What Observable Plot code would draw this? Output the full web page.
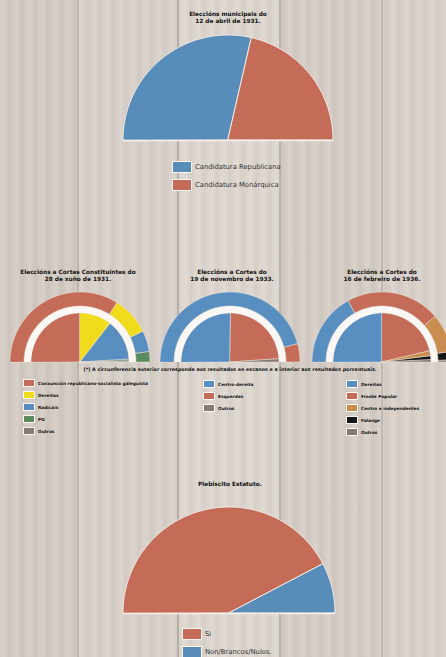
<!DOCTYPE html>
<html><head><meta charset="utf-8">
<script src="https://cdn.jsdelivr.net/npm/d3@7"></script>
<script src="https://cdn.jsdelivr.net/npm/@observablehq/plot@0.6"></script>
<style>
html,body{margin:0;padding:0;width:446px;height:657px;overflow:hidden}
#page{position:relative;width:446px;height:657px;overflow:hidden;font-family:"DejaVu Sans",sans-serif;
background:
 repeating-linear-gradient(90deg, rgba(255,255,255,0) 0px, rgba(255,255,255,0.10) 4px, rgba(0,0,0,0.035) 9px, rgba(255,255,255,0) 13px),
 linear-gradient(90deg,#d3cbc3 0 77px,#bdb4ac 77px 79px,#d8d0c9 79px 177px,#bdb4ac 177px 179px,#ddd6cf 179px 279px,#bdb4ac 279px 281px,#d5cdc5 281px 381px,#bdb4ac 381px 383px,#d9d1c9 383px);}
.title{position:absolute;font-weight:bold;font-size:5.8px;line-height:7px;text-align:center;color:#111;white-space:nowrap;transform:translateX(-50%)}
.leg{position:absolute;white-space:nowrap}
.item{display:flex;align-items:center}
.sw{box-sizing:border-box;border:1px solid #fbf6f2;display:inline-block}
.big .item{height:18px;font-size:6.8px;color:#333}
.big .sw{width:20px;height:12px;margin-right:3px}
.small .item{height:12px;font-size:4.3px;font-weight:bold;color:#111}
.small .sw{width:12px;height:8px;margin-right:3px}
.note{position:absolute;font-size:4.8px;font-weight:bold;color:#111;white-space:nowrap;transform:translateX(-50%)}
</style></head>
<body><div id="page"></div>
<script>
// ---- data ----
const munTitle = ["Eleccións municipais do", "12 de abril de 1931."];
const munCats = ["Candidatura Republicana", "Candidatura Monárquica"];
const munVals = [57.2, 42.8];
const munColors = ["#588cb9", "#c46c58"];

const c31Title = ["Eleccións a Cortes Constituíntes do", "28 de xuño de 1931."];
const c31Cats = ["Conxunción republicano-socialista galeguista", "Dereitas", "Radicais", "PG", "Outros"];
const c31Seats = [67.8, 17.8, 9.7, 4.7, 0];
const c31Votes = [50, 21.1, 27.2, 1.2, 0.5];
const c31Colors = ["#c46c58", "#f0dc1c", "#588fc0", "#5b8a5f", "#857a75"];

const c33Title = ["Eleccións a Cortes do", "19 de novembro de 1933."];
const c33Cats = ["Centro-dereita", "Esquerdas", "Outros"];
const c33Seats = [91.7, 8.3, 0];
const c33Votes = [50.5, 47.5, 2];
const c33Colors = ["#588fc0", "#c46c58", "#857a75"];

const c36Title = ["Eleccións a Cortes do", "16 de febreiro de 1936."];
const c36Cats = ["Dereitas", "Fronte Popular", "Centro e independentes", "Falange", "Outros"];
const c36Seats = [34, 43.5, 17.8, 3.9, 0.8];
const c36Votes = [50, 42.8, 3.3, 2.5, 1.4];
const c36Colors = ["#588fc0", "#c46c58", "#c98d50", "#161616", "#857a75"];

const estTitle = ["Plebiscito Estatuto."];
const estCats = ["Si", "Non/Brancos/Nulos."];
const estVals = [84.7, 15.3];
const estColors = ["#c46c58", "#588cb9"];

const noteText = "(*) A circunferencia exterior corresponde aos resultados en escanos e a interior aos resultados porcentuais.";

// ---- helpers ----
const page = document.getElementById("page");

function wedges(cats, vals, r0, r1, ring) {
  const total = d3.sum(vals);
  const pts = [];
  let acc = 0;
  cats.forEach((c, i) => {
    const a0 = Math.PI * (1 - acc / total);
    acc += vals[i];
    const a1 = Math.PI * (1 - acc / total);
    if (!(vals[i] > 0)) return;
    const n = Math.max(2, Math.ceil((a0 - a1) / (Math.PI / 180)));
    for (let k = 0; k <= n; k++) {
      const a = a0 + (a1 - a0) * k / n;
      pts.push({key: c, id: ring + c, x1: r0 * Math.cos(a), y1: r0 * Math.sin(a), x2: r1 * Math.cos(a), y2: r1 * Math.sin(a)});
    }
  });
  return pts;
}

function semi({cats, colors, rings, r, cx, cy, stroke, sw, base}) {
  const m = 2;
  const marks = [];
  rings.forEach(([vals, r0, r1, name]) => {
    if (vals === null) {
      marks.push(Plot.area(wedges(["w"], [1], r0, r1, name), {x1: "x1", y1: "y1", x2: "x2", y2: "y2", fill: "#fbf7f4"}));
    } else {
      marks.push(Plot.area(wedges(cats, vals, r0, r1, name), {x1: "x1", y1: "y1", x2: "x2", y2: "y2", z: "id", fill: "key", stroke, strokeWidth: sw}));
    }
  });
  if (base) marks.push(Plot.ruleY([0], {stroke: "#f7f0ea", strokeWidth: 1.5}));
  const svg = Plot.plot({
    width: 2 * r + 2 * m, height: r + 2 * m, margin: m,
    x: {domain: [-1, 1], axis: null}, y: {domain: [0, 1], axis: null},
    color: {domain: cats, range: colors},
    style: {background: "transparent", overflow: "visible"},
    marks
  });
  svg.style.position = "absolute";
  svg.style.left = (cx - r - m) + "px";
  svg.style.top = (cy - r - m) + "px";
  page.appendChild(svg);
}

function title(lines, cx, top) {
  const d = document.createElement("div");
  d.className = "title";
  d.style.left = cx + "px"; d.style.top = top + "px";
  d.innerHTML = lines.join("<br>");
  page.appendChild(d);
}

function legend(cats, colors, left, top, cls) {
  const d = document.createElement("div");
  d.className = "leg " + cls;
  d.style.left = left + "px"; d.style.top = top + "px";
  cats.forEach((c, i) => {
    const it = document.createElement("div"); it.className = "item";
    const s = document.createElement("span"); s.className = "sw"; s.style.background = colors[i];
    const t = document.createElement("span"); t.textContent = c;
    it.appendChild(s); it.appendChild(t); d.appendChild(it);
  });
  page.appendChild(d);
}

// ---- chart 1 ----
title(munTitle, 228, 11);
semi({cats: munCats, colors: munColors, rings: [[munVals, 0, 1, "a"]], r: 105, cx: 228, cy: 140, stroke: "#f3ebe4", sw: 1, base: true});
legend(munCats, munColors, 172, 158, "big");

// ---- charts 2-4 ----
title(c31Title, 78, 269);
semi({cats: c31Cats, colors: c31Colors, rings: [[c31Votes, 0, 0.7, "v"], [null, 0.7, 0.8, "w"], [c31Seats, 0.8, 1, "s"]], r: 70, cx: 80, cy: 362, stroke: "#eee5de", sw: 0.5});
legend(c31Cats, c31Colors, 23, 377, "small");

title(c33Title, 232, 269);
semi({cats: c33Cats, colors: c33Colors, rings: [[c33Votes, 0, 0.7, "v"], [null, 0.7, 0.8, "w"], [c33Seats, 0.8, 1, "s"]], r: 70, cx: 230, cy: 362, stroke: "#eee5de", sw: 0.5});
legend(c33Cats, c33Colors, 203, 378, "small");

title(c36Title, 382, 269);
semi({cats: c36Cats, colors: c36Colors, rings: [[c36Votes, 0, 0.7, "v"], [null, 0.7, 0.8, "w"], [c36Seats, 0.8, 1, "s"]], r: 70, cx: 382, cy: 362, stroke: "#eee5de", sw: 0.5});
legend(c36Cats, c36Colors, 346, 378, "small");

const n = document.createElement("div");
n.className = "note"; n.style.left = "230px"; n.style.top = "367px"; n.textContent = noteText;
page.appendChild(n);

// ---- chart 5 ----
title(estTitle, 230, 481);
semi({cats: estCats, colors: estColors, rings: [[estVals, 0, 1, "a"]], r: 106, cx: 229, cy: 613, stroke: "#f3ebe4", sw: 1, base: true});
legend(estCats, estColors, 182, 625, "big");
</script>
</body></html>
